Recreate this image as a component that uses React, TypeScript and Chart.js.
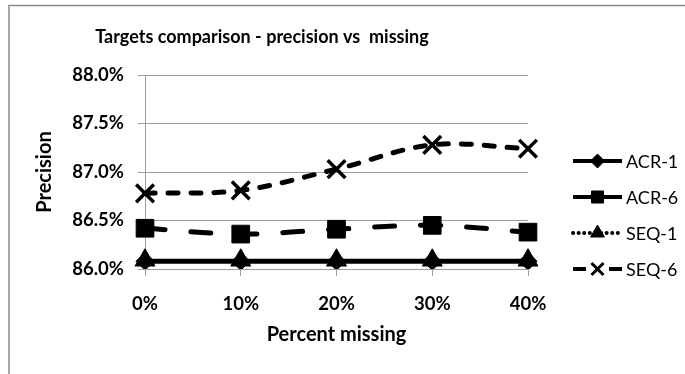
import React, { useEffect, useRef } from "react";
import { Chart, registerables } from "chart.js";
import { drawPoint } from "chart.js/helpers";

Chart.register(...registerables);

// Share of missing values tested
const categories = ["0%", "10%", "20%", "30%", "40%"];

// Precision (%) per target configuration
const acr1 = [86.08, 86.08, 86.08, 86.08, 86.08];
const acr6 = [86.42, 86.36, 86.41, 86.45, 86.38];
const seq1 = [86.09, 86.09, 86.09, 86.09, 86.09];
const seq6 = [86.78, 86.81, 87.03, 87.28, 87.24];

const seriesNames = ["ACR-1", "ACR-6", "SEQ-1", "SEQ-6"];

const yMin = 86.0;
const yMax = 88.0;
const yStep = 0.5;

const titleText = "Targets comparison - precision vs  missing";
const xTitle = "Percent missing";
const yTitle = "Precision";

const FONT = "Lato, 'Open Sans', sans-serif";
const GRID = "#9c9c9c";

// Legend sample styling, one entry per series
const legendSamples = [
  { dash: [] as number[], width: 4, cap: "butt" as CanvasLineCap, radius: 7 },
  { dash: [] as number[], width: 4, cap: "butt" as CanvasLineCap, radius: 8.5 },
  { dash: [0.1, 5.5], width: 4, cap: "round" as CanvasLineCap, radius: 8 },
  { dash: [13, 23, 13], width: 4, cap: "butt" as CanvasLineCap, radius: 8.5 },
];

const frameAndTitle = {
  id: "frameAndTitle",
  beforeDraw(chart: any) {
    const ctx = chart.ctx as CanvasRenderingContext2D;
    ctx.save();
    ctx.fillStyle = "#ffffff";
    ctx.fillRect(0, 0, chart.width, chart.height);
    ctx.strokeStyle = "#8a8a8a";
    ctx.lineWidth = 1.5;
    ctx.beginPath();
    ctx.moveTo(9, chart.height);
    ctx.lineTo(9, 5.5);
    ctx.lineTo(chart.width, 5.5);
    ctx.stroke();
    ctx.restore();
  },
  afterDraw(chart: any) {
    const ctx = chart.ctx as CanvasRenderingContext2D;
    ctx.save();
    ctx.fillStyle = "#000";
    ctx.font = `bold 18px ${FONT}`;
    ctx.textAlign = "center";
    ctx.textBaseline = "middle";
    ctx.fillText(titleText, 262, 37);
    ctx.restore();
  },
};

const sideLegend = {
  id: "sideLegend",
  afterDraw(chart: any) {
    const ctx = chart.ctx as CanvasRenderingContext2D;
    const x0 = chart.chartArea.right + 45;
    const x1 = x0 + 49;
    const top = chart.chartArea.top + 86;
    const step = 36;
    chart.data.datasets.forEach((ds: any, i: number) => {
      const s = legendSamples[i];
      const y = top + i * step;
      ctx.save();
      ctx.strokeStyle = "#000";
      ctx.fillStyle = "#000";
      ctx.lineWidth = s.width;
      ctx.lineCap = s.cap;
      ctx.setLineDash(s.dash);
      ctx.beginPath();
      ctx.moveTo(x0, y);
      ctx.lineTo(x1, y);
      ctx.stroke();
      ctx.setLineDash([]);
      ctx.lineCap = "butt";
      ctx.lineWidth = ds.pointStyle === "crossRot" ? 3 : 1;
      drawPoint(
        ctx,
        { pointStyle: ds.pointStyle, radius: s.radius, rotation: 0, borderWidth: ctx.lineWidth },
        (x0 + x1) / 2,
        y
      );
      ctx.font = `18px ${FONT}`;
      ctx.textAlign = "left";
      ctx.textBaseline = "middle";
      ctx.fillStyle = "#000";
      ctx.fillText(ds.label, x1 + 4, y + 1);
      ctx.restore();
    });
  },
};

export default function App() {
  const canvasRef = useRef<HTMLCanvasElement | null>(null);

  useEffect(() => {
    if (!canvasRef.current) return;
    const common = {
      borderColor: "#000",
      backgroundColor: "#000",
      pointBackgroundColor: "#000",
      pointBorderColor: "#000",
      tension: 0.35,
      fill: false,
    };
    const chart = new Chart(canvasRef.current, {
      type: "line",
      data: {
        labels: categories,
        datasets: [
          {
            ...common,
            label: seriesNames[0],
            data: acr1,
            borderWidth: 5,
            pointStyle: "rectRot",
            pointRadius: 9,
            pointBorderWidth: 1,
            order: 4,
          },
          {
            ...common,
            label: seriesNames[1],
            data: acr6,
            borderWidth: 5,
            borderDash: [20, 26],
            borderCapStyle: "round",
            pointStyle: "rect",
            pointRadius: 12.5,
            pointBorderWidth: 1,
            order: 3,
          },
          {
            ...common,
            label: seriesNames[2],
            data: seq1,
            borderWidth: 2.5,
            borderDash: [0.1, 5],
            borderCapStyle: "round",
            pointStyle: "triangle",
            pointRadius: 11.5,
            pointBorderWidth: 1,
            order: 2,
          },
          {
            ...common,
            label: seriesNames[3],
            data: seq6,
            borderWidth: 5,
            borderDash: [10, 13],
            borderCapStyle: "round",
            pointStyle: "crossRot",
            pointRadius: 12.5,
            pointBorderWidth: 3.5,
            order: 1,
          },
        ],
      },
      options: {
        responsive: false,
        animation: false,
        events: [],
        layout: { padding: { left: 0, top: 75, right: 157, bottom: 0 } },
        plugins: {
          legend: { display: false },
          title: { display: false },
          tooltip: { enabled: false },
        },
        scales: {
          x: {
            offset: false,
            afterFit(scale: any) {
              scale.height = 105;
            },
            grid: {
              drawOnChartArea: false,
              drawTicks: true,
              tickLength: 7,
              color: GRID,
            },
            border: { color: GRID, width: 1 },
            ticks: {
              color: "#000",
              padding: 17,
              maxRotation: 0,
              font: { family: FONT, size: 18.5, weight: "bold" },
            },
            title: {
              display: true,
              text: xTitle,
              color: "#000",
              font: { family: FONT, size: 20, weight: "bold" },
              padding: { top: 0, bottom: 27 },
            },
          },
          y: {
            min: yMin,
            max: yMax,
            afterFit(scale: any) {
              scale.width = 145;
            },
            grid: {
              color: GRID,
              drawTicks: true,
              tickLength: 7,
            },
            border: { color: GRID, width: 1 },
            ticks: {
              stepSize: yStep,
              color: "#000",
              padding: 14,
              font: { family: FONT, size: 18.5, weight: "bold" },
              callback: (v: any) => Number(v).toFixed(1) + "%",
            },
            title: {
              display: true,
              text: yTitle,
              color: "#000",
              font: { family: FONT, size: 20, weight: "bold" },
              padding: { top: 33, bottom: 0 },
            },
          },
        },
      },
      plugins: [frameAndTitle, sideLegend],
    });
    return () => chart.destroy();
  }, []);

  return (
    <div style={{ position: "fixed", left: 0, top: 0, width: 685, height: 374, background: "#fff" }}>
      <canvas ref={canvasRef} width={685} height={374} style={{ display: "block" }} />
    </div>
  );
}
